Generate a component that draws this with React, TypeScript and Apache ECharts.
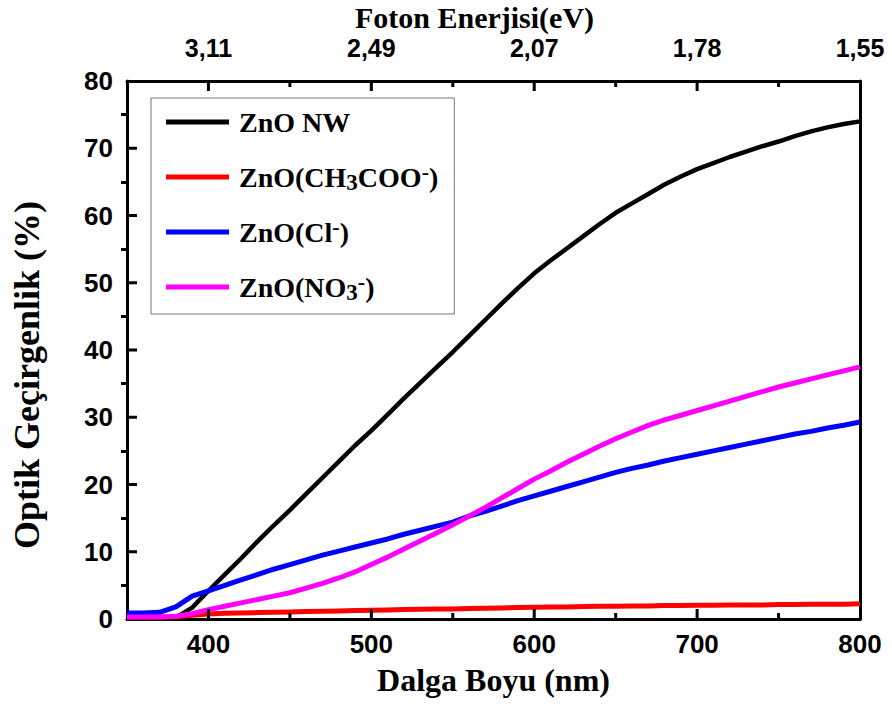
import React, { useEffect, useRef } from "react";
import * as echarts from "echarts";

const WAVELENGTH = [
  350, 360, 370, 380, 390, 400, 410, 420, 430, 440, 450, 460, 470, 480, 490, 500,
  510, 520, 530, 540, 550, 560, 570, 580, 590, 600, 610, 620, 630, 640, 650, 660,
  670, 680, 690, 700, 710, 720, 730, 740, 750, 760, 770, 780, 790, 800,
];

const ZNO_NW = [
  0.2, 0.2, 0.2, 0.2, 1.7, 4.2, 6.6, 9.0, 11.5, 13.9, 16.2, 18.6, 21.0, 23.4, 25.8, 28.0,
  30.4, 32.8, 35.1, 37.4, 39.7, 42.1, 44.5, 46.9, 49.2, 51.4, 53.3, 55.1, 56.9, 58.7, 60.4, 61.8,
  63.2, 64.6, 65.8, 66.9, 67.8, 68.7, 69.5, 70.3, 71.0, 71.8, 72.5, 73.1, 73.6, 74.0,
];

const ZNO_ACETATE = [
  0.3, 0.3, 0.3, 0.35, 0.55, 0.75, 0.85, 0.9, 0.95, 1.0, 1.05, 1.1, 1.15, 1.2, 1.25, 1.3,
  1.35, 1.4, 1.45, 1.5, 1.5, 1.55, 1.6, 1.65, 1.7, 1.75, 1.8, 1.8, 1.85, 1.9, 1.9, 1.95,
  1.95, 2.0, 2.0, 2.05, 2.05, 2.1, 2.1, 2.1, 2.15, 2.15, 2.2, 2.2, 2.2, 2.25,
];

const ZNO_CL = [
  0.9, 0.9, 1.0, 1.8, 3.4, 4.2, 5.0, 5.8, 6.6, 7.4, 8.1, 8.8, 9.5, 10.1, 10.7, 11.3,
  11.9, 12.6, 13.2, 13.8, 14.4, 15.3, 16.0, 16.8, 17.6, 18.3, 19.0, 19.7, 20.4, 21.1, 21.8, 22.4,
  22.9, 23.5, 24.0, 24.5, 25.0, 25.5, 26.0, 26.5, 27.0, 27.5, 27.9, 28.4, 28.8, 29.3,
];

const ZNO_NO3 = [
  0.3, 0.3, 0.3, 0.4, 0.8, 1.4, 1.9, 2.4, 2.9, 3.4, 3.9, 4.6, 5.3, 6.1, 7.0, 8.1,
  9.2, 10.4, 11.6, 12.8, 14.0, 15.3, 16.6, 18.0, 19.4, 20.8, 22.0, 23.3, 24.5, 25.7, 26.8, 27.8,
  28.8, 29.6, 30.3, 31.0, 31.7, 32.4, 33.1, 33.8, 34.5, 35.1, 35.7, 36.3, 36.9, 37.5,
];

const SERIES_NAMES = ["ZnO NW", "ZnO(CH3COO-)", "ZnO(Cl-)", "ZnO(NO3-)"];
const SERIES_COLORS = ["#000000", "#ff0000", "#0000ff", "#ff00ff"];
const MAJOR_X_TICKS = [400, 500, 600, 700, 800];
const MINOR_X_TICKS = [450, 550, 650, 750];
const MAJOR_Y_TICKS = [10, 20, 30, 40, 50, 60, 70];
const TOP_TICK_LABELS = ["3,11", "2,49", "2,07", "1,78", "1,55"];
const X_MIN = 350;
const X_MAX = 800;
const Y_MIN = 0;
const Y_MAX = 80;

const LEGEND_RICH_TEXT: Record<string, string> = {
  "ZnO NW": "{f|ZnO NW}",
  "ZnO(CH3COO-)": "{f|ZnO(CH}{sub|3}{n|COO}{sup|-}{n|)}",
  "ZnO(Cl-)": "{f|ZnO(Cl}{sup|-}{n|)}",
  "ZnO(NO3-)": "{f|ZnO(NO}{sub|3}{sup|-}{n|)}",
};

const SERIF = "'Liberation Serif', 'Times New Roman', serif";
const SANS = "'Liberation Sans', Arial, sans-serif";

function ls() {
  return { color: "#000000", width: 3 };
}

// side: 0 = bottom (tick goes up), 1 = top (tick goes down), 2 = left (tick goes right)
const TICK_DIRS = [
  [0, -1],
  [0, 1],
  [1, 0],
];

function tickRenderItem(_params: any, api: any) {
  const pt = api.coord([api.value(0), api.value(1)]);
  const dir = TICK_DIRS[api.value(2)];
  const len = api.value(3);
  return {
    type: "line",
    shape: {
      x1: pt[0],
      y1: pt[1],
      x2: pt[0] + dir[0] * len,
      y2: pt[1] + dir[1] * len,
    },
    style: { stroke: "#000000", lineWidth: 3 },
    silent: true,
  };
}

export default function App() {
  const ref = useRef<HTMLDivElement>(null);

  useEffect(() => {
    if (!ref.current) return;
    const chart = echarts.init(ref.current, undefined, { renderer: "svg" });
    const tickLabel = {
      fontFamily: SANS,
      fontWeight: "bold" as const,
      fontSize: 26,
      color: "#000",
      lineHeight: 16,
    };
    const titleStyle = {
      fontFamily: SERIF,
      fontWeight: "bold" as const,
      fontSize: 32,
      color: "#000",
    };
    const seriesData = [ZNO_NW, ZNO_ACETATE, ZNO_CL, ZNO_NO3];
    const legendText = {
      fontFamily: SERIF,
      fontWeight: "bold" as const,
      fontSize: 28,
      color: "#000",
      lineHeight: 34,
    };

    const innerMajorX = MAJOR_X_TICKS.filter((v) => v > X_MIN && v < X_MAX);
    const innerMajorY = MAJOR_Y_TICKS.filter((v) => v > Y_MIN && v < Y_MAX);
    const tickData = [
      ...innerMajorX.map((v) => [v, Y_MIN, 0, 10]),
      ...MINOR_X_TICKS.map((v) => [v, Y_MIN, 0, 6]),
      ...innerMajorX.map((v) => [v, Y_MAX, 1, 10]),
      ...MINOR_X_TICKS.map((v) => [v, Y_MAX, 1, 6]),
      ...innerMajorY.map((v) => [X_MIN, v, 2, 10]),
    ];

    const option: any = {
      animation: false,
      backgroundColor: "#ffffff",
      grid: {
        left: 127,
        right: 32,
        top: 81,
        bottom: 105,
        containLabel: false,
        outerBoundsMode: "none",
      },
      legend: {
        orient: "vertical",
        left: 151,
        top: 98,
        padding: [7, 16, 10, 15],
        itemGap: 21,
        itemWidth: 63,
        itemHeight: 5,
        icon: "rect",
        borderColor: "#777",
        borderWidth: 1,
        backgroundColor: "#fff",
        selectedMode: false,
        data: SERIES_NAMES,
        formatter: (name: string) => LEGEND_RICH_TEXT[name] ?? name,
        textStyle: {
          ...legendText,
          rich: {
            f: { ...legendText, padding: [0, 0, 0, 5] },
            n: { ...legendText },
            sub: {
              fontFamily: SERIF,
              fontWeight: "bold",
              fontSize: 23,
              color: "#000",
              verticalAlign: "bottom",
            },
            sup: {
              fontFamily: SERIF,
              fontWeight: "bold",
              fontSize: 22,
              color: "#000",
              verticalAlign: "top",
            },
          },
        },
      },
      xAxis: [
        {
          type: "value",
          position: "bottom",
          min: X_MIN,
          max: X_MAX,
          name: "Dalga Boyu (nm)",
          nameLocation: "middle",
          nameGap: 45,
          nameMoveOverlap: false,
          nameTextStyle: titleStyle,
          axisLine: { show: true, onZero: false, lineStyle: ls() },
          axisTick: { show: false },
          axisLabel: { ...tickLabel, customValues: MAJOR_X_TICKS, margin: 17 },
          splitLine: { show: false },
        },
        {
          type: "value",
          position: "top",
          min: X_MIN,
          max: X_MAX,
          name: "Foton Enerjisi(eV)",
          nameLocation: "middle",
          nameGap: 49,
          nameMoveOverlap: false,
          nameTextStyle: {
            ...titleStyle,
            fontSize: 30,
            lineHeight: 29,
            padding: [0, 38, 0, 0],
          },
          axisLine: { show: true, onZero: false, lineStyle: ls() },
          axisTick: { show: false },
          axisLabel: {
            ...tickLabel,
            fontSize: 25,
            lineHeight: 25,
            customValues: MAJOR_X_TICKS,
            margin: 21,
            formatter: (v: number) => {
              const i = MAJOR_X_TICKS.indexOf(v);
              return i >= 0 ? TOP_TICK_LABELS[i] : "";
            },
          },
          splitLine: { show: false },
        },
      ],
      yAxis: [
        {
          type: "value",
          position: "left",
          min: Y_MIN,
          max: Y_MAX,
          interval: 10,
          name: "Optik Geçirgenlik (%)",
          nameLocation: "middle",
          nameGap: 82,
          nameMoveOverlap: false,
          nameTextStyle: { ...titleStyle, fontSize: 36, padding: [0, 50, 0, 0] },
          axisLine: { show: true, onZero: false, lineStyle: ls() },
          axisTick: { show: false },
          minorTick: { show: true, splitNumber: 2, length: 6, lineStyle: ls() },
          axisLabel: { ...tickLabel, margin: 14 },
          splitLine: { show: false },
          minorSplitLine: { show: false },
        },
        {
          type: "value",
          position: "right",
          min: Y_MIN,
          max: Y_MAX,
          interval: 10,
          axisLine: { show: true, onZero: false, lineStyle: ls() },
          axisTick: { show: false },
          axisLabel: { show: false },
          splitLine: { show: false },
        },
      ],
      series: [
        ...SERIES_NAMES.map((name, k) => ({
          name,
          type: "line",
          xAxisIndex: 0,
          yAxisIndex: 0,
          showSymbol: false,
          symbol: "none",
          silent: true,
          z: 2,
          color: SERIES_COLORS[k],
          itemStyle: { color: SERIES_COLORS[k] },
          lineStyle: { color: SERIES_COLORS[k], width: k === 0 ? 4.5 : 5 },
          data: WAVELENGTH.map((w, i) => [w, seriesData[k][i]]),
        })),
        {
          id: "frame-ticks",
          type: "custom",
          xAxisIndex: 0,
          yAxisIndex: 0,
          silent: true,
          clip: false,
          z: 3,
          dimensions: ["x", "y", "side", "len"],
          encode: { x: 0, y: 1 },
          renderItem: tickRenderItem,
          data: tickData,
        },
      ],
    };

    chart.setOption(option);
    return () => chart.dispose();
  }, []);

  return (
    <div
      ref={ref}
      style={{ position: "absolute", left: 0, top: 0, width: 892, height: 724, background: "#fff" }}
    />
  );
}
